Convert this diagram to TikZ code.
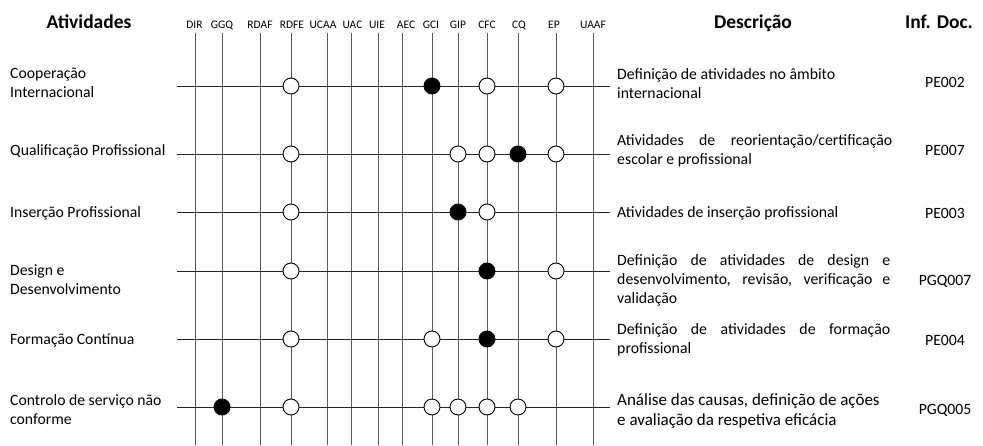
\documentclass[tikz,border=0pt]{standalone}
\usepackage{fontspec}
\setmainfont{Carlito}
\begin{document}
\begin{tikzpicture}[x=1pt,y=-1pt,
  vline/.style={draw=black!65, line width=0.9pt},
  hline/.style={draw=black!85, line width=0.9pt},
  opn/.style={circle, draw=black, fill=white, minimum size=16pt, inner sep=0pt, line width=0.9pt},
  fll/.style={circle, draw=black, fill=black, minimum size=16pt, inner sep=0pt, line width=0.9pt},
  colhead/.style={font=\fontsize{11.5}{13}\selectfont, anchor=base, inner sep=0pt},
  head/.style={font=\fontsize{19.5}{22}\selectfont\bfseries, anchor=base, inner sep=0pt},
  act/.style={font=\fontsize{15.7}{19}\selectfont, anchor=west, align=left, inner sep=0pt},
  desc/.style={font=\fontsize{15.8}{19}\selectfont, anchor=west, align=left, inner sep=0pt},
  descbig/.style={font=\fontsize{17}{20}\selectfont, anchor=west, align=left, inner sep=0pt},
  doc/.style={font=\fontsize{15.7}{19}\selectfont, inner sep=0pt}]
\useasboundingbox (0,0) rectangle (983,445);

% headers
\node[head] (hAtiv) at (89,28.5) {Atividades};
\node[head] (hDesc) at (753,28.5) {Descrição};
\node[head] (hInf) at (939,28.5) {Inf. Doc.};

% columns
\foreach \n/\x/\lx in {DIR/195/194.5, GGQ/222/222, RDAF/260/260, RDFE/291/292, UCAA/327/323, UAC/351/352.5, UIE/378/377, AEC/402/406, GCI/432/431, GIP/458/458, CFC/487/487, CQ/518/519, EP/556/554, UAAF/593/593}{
  \node[colhead] (h\n) at (\lx,28) {\n};
  \coordinate (t\n) at (\x,33);
  \coordinate (b\n) at (\x,445);
  \draw[vline] (t\n) -- (b\n);
}

% rows
\foreach \r/\y in {1/86, 2/154, 3/212, 4/271, 5/339, 6/407}{
  \coordinate (l\r) at (177,\y);
  \coordinate (r\r) at (610,\y);
  \draw[hline] (l\r) -- (r\r);
}

% activity labels
\node[act] (a1) at (10,82.5) {Cooperação\\Internacional};
\node[act] (a2) at (10,151) {Qualificação Profissional};
\node[act] (a3) at (10,213) {Inserção Profissional};
\node[act] (a4) at (10,279.5) {Design e\\Desenvolvimento};
\node[act] (a5) at (10,340) {Formação Contínua};
\node[act] (a6) at (10,410) {Controlo de serviço não\\conforme};

% descriptions
\node[desc] (d1) at (617,84) {Definição de atividades no âmbito\\internacional};
\node[desc] (d2) at (617,151) {\makebox[275pt][s]{Atividades de reorientação/certificação}\\escolar e profissional};
\node[desc] (d3) at (617,213) {Atividades de inserção profissional};
\node[desc] (d4) at (617,280) {\makebox[273pt][s]{Definição de atividades de design e}\\\makebox[273pt][s]{desenvolvimento, revisão, verificação e}\\validação};
\node[desc] (d5) at (617,340) {\makebox[273pt][s]{Definição de atividades de formação}\\profissional};
\node[descbig] (d6) at (617,411) {Análise das causas, definição de ações\\e avaliação da respetiva eficácia};

% documents
\node[doc] (p1) at (945,82) {PE002};
\node[doc] (p2) at (945,150) {PE007};
\node[doc] (p3) at (945,213) {PE003};
\node[doc] (p4) at (945,281) {PGQ007};
\node[doc] (p5) at (945,340) {PE004};
\node[doc] (p6) at (945,410) {PGQ005};

% markers
\node[opn] (m1a) at (tRDFE |- l1) {};
\node[fll] (m1b) at (tGCI |- l1) {};
\node[opn] (m1c) at (tCFC |- l1) {};
\node[opn] (m1d) at (tEP |- l1) {};

\node[opn] (m2a) at (tRDFE |- l2) {};
\node[opn] (m2b) at (tGIP |- l2) {};
\node[opn] (m2c) at (tCFC |- l2) {};
\node[fll] (m2d) at (tCQ |- l2) {};
\node[opn] (m2e) at (tEP |- l2) {};

\node[opn] (m3a) at (tRDFE |- l3) {};
\node[fll] (m3b) at (tGIP |- l3) {};
\node[opn] (m3c) at (tCFC |- l3) {};

\node[opn] (m4a) at (tRDFE |- l4) {};
\node[fll] (m4b) at (tCFC |- l4) {};
\node[opn] (m4c) at (tEP |- l4) {};

\node[opn] (m5a) at (tRDFE |- l5) {};
\node[opn] (m5b) at (tGCI |- l5) {};
\node[fll] (m5c) at (tCFC |- l5) {};
\node[opn] (m5d) at (tEP |- l5) {};

\node[fll] (m6a) at (tGGQ |- l6) {};
\node[opn] (m6b) at (tRDFE |- l6) {};
\node[opn] (m6c) at (tGCI |- l6) {};
\node[opn] (m6d) at (tGIP |- l6) {};
\node[opn] (m6e) at (tCFC |- l6) {};
\node[opn] (m6f) at (tCQ |- l6) {};
\end{tikzpicture}
\end{document}
